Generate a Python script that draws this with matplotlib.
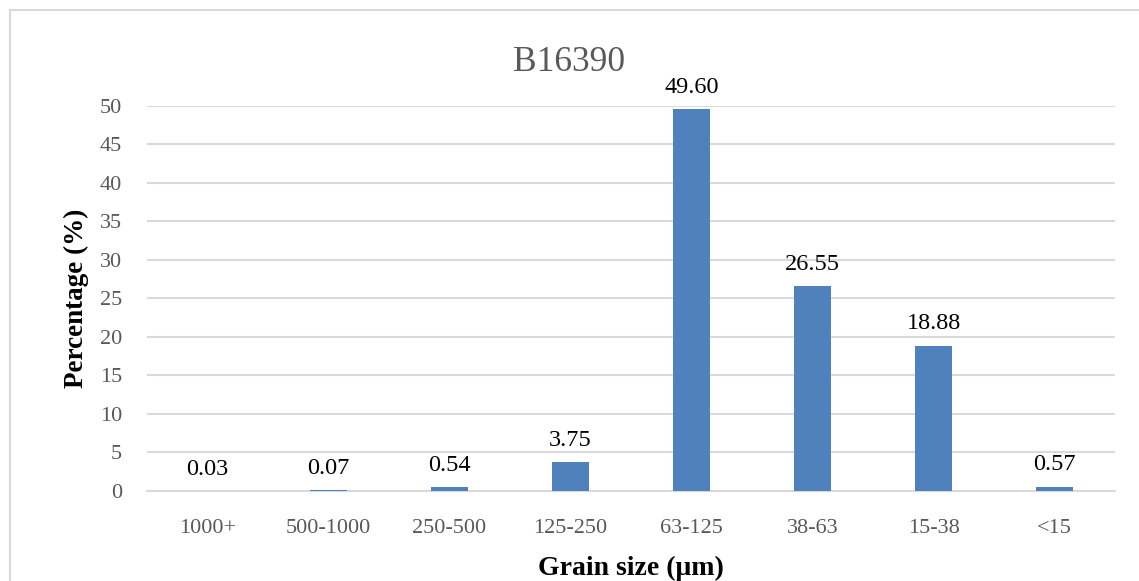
import matplotlib.pyplot as plt
from matplotlib.lines import Line2D
import numpy as np

categories = ["1000+", "500-1000", "250-500", "125-250", "63-125", "38-63", "15-38", "<15"]
percentages = [0.03, 0.07, 0.54, 3.75, 49.60, 26.55, 18.88, 0.57]
y_ticks = [0, 5, 10, 15, 20, 25, 30, 35, 40, 45, 50]

SERIF = ["Liberation Serif", "DejaVu Serif"]
GRID = "#d9d9d9"
TICK_GRAY = "#595959"
BAR_BLUE = "#4f81bd"


def main() -> None:
    plt.rcParams["font.family"] = SERIF
    fig = plt.figure(figsize=(11.39, 5.81), dpi=100)
    ax = fig.add_axes([0.129, 0.155, 0.850, 0.6627])

    x = np.arange(len(categories))
    bars = ax.bar(x, percentages, width=0.31, color=BAR_BLUE, zorder=3)

    for rect, val in zip(bars, percentages):
        ax.annotate(f"{val:.2f}", (rect.get_x() + rect.get_width() / 2, rect.get_height()),
                    xytext=(0, 8), textcoords="offset points", ha="center", va="bottom",
                    fontsize=17.5, color="black")

    ax.set_xlim(-0.5, len(categories) - 0.5)
    ax.set_ylim(0, 50)
    ax.set_yticks(y_ticks)
    ax.set_xticks(x)
    ax.set_xticklabels(categories)
    ax.tick_params(axis="both", length=0, labelsize=16, labelcolor=TICK_GRAY)
    ax.tick_params(axis="y", pad=18)
    ax.tick_params(axis="x", pad=20)
    ax.yaxis.grid(True, color=GRID, linewidth=1.5, zorder=0)
    for side in ["top", "right", "left"]:
        ax.spines[side].set_visible(False)
    ax.spines["bottom"].set_color(GRID)
    ax.spines["bottom"].set_linewidth(1.5)

    ax.set_xlabel("Grain size (μm)", fontsize=20, fontweight="bold", labelpad=13)
    ax.set_ylabel("Percentage (%)", fontsize=19.5, fontweight="bold", labelpad=8)

    fig.text(0.5, 0.893, "B16390", ha="center", va="center", fontsize=25.5, color=TICK_GRAY)

    # chart area border (left and top edges visible in the reference)
    fig.add_artist(Line2D([10 / 1139, 10 / 1139], [0, 1 - 10 / 581], color=GRID, linewidth=1.5))
    fig.add_artist(Line2D([10 / 1139, 1], [1 - 10 / 581, 1 - 10 / 581], color=GRID, linewidth=1.5))

    fig.savefig("out.png", dpi=100)
    plt.close(fig)


if __name__ == "__main__":
    main()
